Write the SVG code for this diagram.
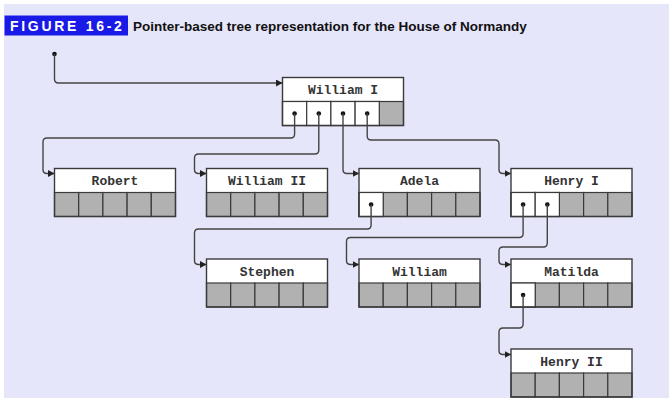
<svg xmlns="http://www.w3.org/2000/svg" width="672" height="404" viewBox="0 0 672 404">
<defs>
<style>
.box{fill:none;stroke:#3a3a3a;stroke-width:1.4}
.lab{fill:#fff}
.g{fill:#b1b1b1;stroke:#3a3a3a;stroke-width:1.2}
.w{fill:#fff;stroke:#3a3a3a;stroke-width:1.2}
.t{font-family:"Liberation Mono","Courier New",monospace;font-weight:bold;font-size:13px;fill:#333;text-anchor:middle}
.dot{fill:#111}
.c{fill:none;stroke:#444;stroke-width:1.4;marker-end:url(#ah)}
</style>
<marker id="ah" markerUnits="userSpaceOnUse" markerWidth="7" markerHeight="7" refX="6.5" refY="3.5" orient="auto">
<path d="M0,0 L6.5,3.5 L0,7 z" fill="#222"/>
</marker>
<g id="cells5">
<rect class="g" x="0" y="24" width="24.2" height="24"/>
<rect class="g" x="24.2" y="24" width="24.2" height="24"/>
<rect class="g" x="48.4" y="24" width="24.2" height="24"/>
<rect class="g" x="72.6" y="24" width="24.2" height="24"/>
<rect class="g" x="96.8" y="24" width="24.2" height="24"/>
</g>
</defs>
<rect x="0" y="0" width="672" height="404" fill="#fff"/>
<rect x="4" y="4" width="665" height="394" fill="#e6e6fa"/>
<g id="title">
<rect x="4.5" y="15.5" width="123.5" height="20" fill="#1a1ae6"/>
<text x="10" y="30.5" font-family="Liberation Sans, Arial, sans-serif" font-weight="bold" font-size="14" letter-spacing="2.7" fill="#fff">FIGURE 16-2</text>
<text x="133" y="30.5" font-family="Liberation Sans, Arial, sans-serif" font-weight="bold" font-size="13.5" fill="#111">Pointer-based tree representation for the House of Normandy</text>
</g>
<g id="william-i" transform="translate(282.5,77.5)">
<rect class="lab" width="121" height="24"/>
<use href="#cells5"/>
<rect class="w" x="0" y="24" width="24.2" height="24"/>
<rect class="w" x="24.2" y="24" width="24.2" height="24"/>
<rect class="w" x="48.4" y="24" width="24.2" height="24"/>
<rect class="w" x="72.6" y="24" width="24.2" height="24"/>
<circle class="dot" cx="12.1" cy="36" r="2.3"/>
<circle class="dot" cx="36.3" cy="36" r="2.3"/>
<circle class="dot" cx="60.5" cy="36" r="2.3"/>
<circle class="dot" cx="84.7" cy="36" r="2.3"/>
<rect class="box" width="121" height="48"/>
<text class="t" x="60.5" y="16.5">William I</text>
</g>
<g id="robert" transform="translate(54.5,168.5)">
<rect class="lab" width="121" height="24"/>
<use href="#cells5"/>
<rect class="box" width="121" height="48"/>
<text class="t" x="60.5" y="16.5">Robert</text>
</g>
<g id="william-ii" transform="translate(206.5,168.5)">
<rect class="lab" width="121" height="24"/>
<use href="#cells5"/>
<rect class="box" width="121" height="48"/>
<text class="t" x="60.5" y="16.5">William II</text>
</g>
<g id="adela" transform="translate(359,168.5)">
<rect class="lab" width="121" height="24"/>
<use href="#cells5"/>
<rect class="w" x="0" y="24" width="24.2" height="24"/>
<circle class="dot" cx="12.1" cy="36" r="2.3"/>
<rect class="box" width="121" height="48"/>
<text class="t" x="60.5" y="16.5">Adela</text>
</g>
<g id="henry-i" transform="translate(511,168.5)">
<rect class="lab" width="121" height="24"/>
<use href="#cells5"/>
<rect class="w" x="0" y="24" width="24.2" height="24"/>
<rect class="w" x="24.2" y="24" width="24.2" height="24"/>
<circle class="dot" cx="12.1" cy="36" r="2.3"/>
<circle class="dot" cx="36.3" cy="36" r="2.3"/>
<rect class="box" width="121" height="48"/>
<text class="t" x="60.5" y="16.5">Henry I</text>
</g>
<g id="stephen" transform="translate(206.5,259)">
<rect class="lab" width="121" height="24"/>
<use href="#cells5"/>
<rect class="box" width="121" height="48"/>
<text class="t" x="60.5" y="16.5">Stephen</text>
</g>
<g id="william" transform="translate(359,259)">
<rect class="lab" width="121" height="24"/>
<use href="#cells5"/>
<rect class="box" width="121" height="48"/>
<text class="t" x="60.5" y="16.5">William</text>
</g>
<g id="matilda" transform="translate(511,259)">
<rect class="lab" width="121" height="24"/>
<use href="#cells5"/>
<rect class="w" x="0" y="24" width="24.2" height="24"/>
<circle class="dot" cx="12.1" cy="36" r="2.3"/>
<rect class="box" width="121" height="48"/>
<text class="t" x="60.5" y="16.5">Matilda</text>
</g>
<g id="henry-ii" transform="translate(511,349)">
<rect class="lab" width="121" height="24"/>
<use href="#cells5"/>
<rect class="box" width="121" height="48"/>
<text class="t" x="60.5" y="16.5">Henry II</text>
</g>
<g id="connectors">
<circle class="dot" cx="54.5" cy="54" r="2.3"/>
<path class="c" d="M54.5,54 V79 Q54.5,83 58.5,83 H282.5"/>
<path class="c" d="M294.6,113.5 V134 Q294.6,138 290.6,138 H47 Q43,138 43,142 V169.5 Q43,173.5 47,173.5 H54.5"/>
<path class="c" d="M318.8,113.5 V150 Q318.8,154 314.8,154 H198.5 Q194.5,154 194.5,158 V169.5 Q194.5,173.5 198.5,173.5 H206.5"/>
<path class="c" d="M343,113.5 V169.5 Q343,173.5 347,173.5 H359"/>
<path class="c" d="M367.2,113.5 V136 Q367.2,140 371.2,140 H495 Q499,140 499,144 V169.5 Q499,173.5 503,173.5 H511"/>
<path class="c" d="M371.1,204.5 V225 Q371.1,229 367.1,229 H198.5 Q194.5,229 194.5,233 V260.5 Q194.5,264.5 198.5,264.5 H206.5"/>
<path class="c" d="M523.1,204.5 V233.5 Q523.1,237.5 519.1,237.5 H350.5 Q346.5,237.5 346.5,241.5 V260.5 Q346.5,264.5 350.5,264.5 H359"/>
<path class="c" d="M547.3,204.5 V243 Q547.3,247 543.3,247 H503 Q499,247 499,251 V260.5 Q499,264.5 503,264.5 H511"/>
<path class="c" d="M523.1,295 V324 Q523.1,328 519.1,328 H503 Q499,328 499,332 V350.5 Q499,354.5 503,354.5 H511"/>
</g>
</svg>
